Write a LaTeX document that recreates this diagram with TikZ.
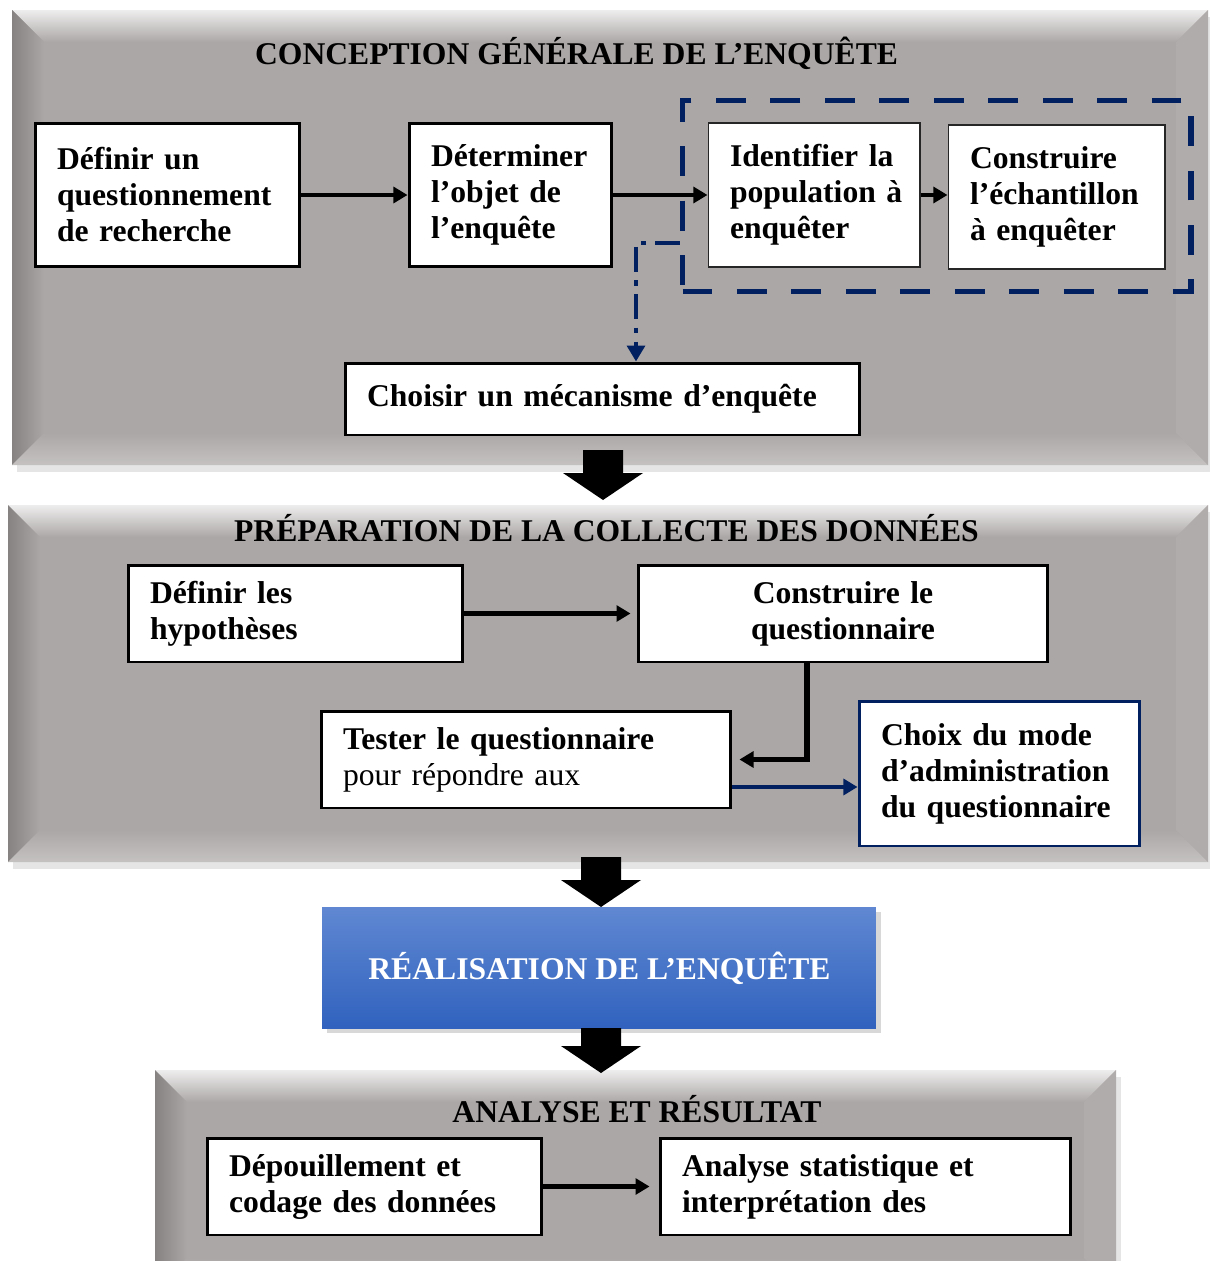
\documentclass[tikz,border=0pt]{standalone}
\usepackage{fontspec}
\setmainfont{Liberation Serif}
\usepackage{xcolor}
\usetikzlibrary{arrows.meta,positioning,calc,fit,shadows}
\definecolor{enqgris}{HTML}{ABA7A6}
\definecolor{enqmarine}{HTML}{002060}
\definecolor{enqbleuhaut}{HTML}{6088D2}
\definecolor{enqbleubas}{HTML}{3062BE}
\newcommand{\taille}{\fontsize{18pt}{20.5pt}\selectfont}
% panneau gris en relief : x1, y1, x2, y2
\newcommand{\panneau}[4]{%
  \fill[black!10] (#1+5,#2+7) rectangle (#3+5,#4+7);
  \fill[enqgris] (#1,#2) rectangle (#3,#4);
  \shade[top color=white!80!enqgris, bottom color=enqgris]
    (#1,#2) -- (#3,#2) -- (#3-32,#2+32) -- (#1+32,#2+32) -- cycle;
  \shade[left color=enqgris!78!black, right color=enqgris]
    (#1,#2) -- (#1+32,#2+32) -- (#1+32,#4-32) -- (#1,#4) -- cycle;
  \shade[top color=enqgris, bottom color=white!30!enqgris]
    (#1,#4) -- (#1+32,#4-32) -- (#3-32,#4-32) -- (#3,#4) -- cycle;
  \fill[enqgris!94!white]
    (#3,#2) -- (#3-32,#2+32) -- (#3-32,#4-32) -- (#3,#4) -- cycle;
}
% grosse flèche noire : x centre, y haut, y pointe
\newcommand{\grossefleche}[3]{%
  \fill[black] (#1-20,#2) -- (#1+20,#2) -- (#1+20,#3-27) -- (#1+40,#3-27)
    -- (#1,#3) -- (#1-40,#3-27) -- (#1-20,#3-27) -- cycle;
}
\hyphenpenalty=10000
\begin{document}
\begin{tikzpicture}[x=0.02cm,y=-0.02cm,
    etape/.style     = {draw=black,line width=1.7pt,fill=white,align=left,
                        inner xsep=0.44cm,inner ysep=0pt,font=\taille\bfseries},
    etapefine/.style = {etape,draw=black!85,line width=0.6pt},
    titre/.style     = {font=\taille\bfseries,inner sep=0pt,anchor=base},
    realisation/.style = {top color=enqbleuhaut,bottom color=enqbleubas,
                        text=white,font=\taille\bfseries,
                        drop shadow={opacity=0.3,shadow xshift=3pt,shadow yshift=-3pt}},
    fleche/.style    = {-{Triangle[length=8pt,width=9pt]},line width=2.6pt},
    groupe/.style    = {draw=enqmarine,line width=3.4pt,
                        dash pattern=on 17pt off 14pt,inner sep=0.5cm},
    renvoi/.style    = {-{Triangle[length=9pt,width=10pt]},draw=enqmarine,
                        line width=2.4pt,dash pattern=on 14pt off 5pt on 3pt off 5pt},
  ]

  \useasboundingbox (0,0) rectangle (1210,1261);
  \fill[white] (0,0) rectangle (1210,1261);

  % ── Panneaux ──────────────────────────────────────────────────────────────
  \panneau{12}{10}{1208}{465}
  \panneau{8}{505}{1208}{862}
  \panneau{155}{1070}{1116}{1290}

  % ── Conception générale ───────────────────────────────────────────────────
  \node[titre] (tconc) at (576.5,64) {CONCEPTION GÉNÉRALE DE L’ENQUÊTE};
  \node[etape,text width=4.42cm,minimum height=2.88cm] (def) at (167.5,195)
       {Définir un\\questionnement\\de recherche};
  \node[etape,text width=3.18cm,minimum height=2.88cm] (obj) at (510.5,195)
       {Déterminer\\l’objet de\\l’enquête};
  \node[etapefine,text width=3.36cm,minimum height=2.88cm] (pop) at (814,195)
       {Identifier la\\population~à\\enquêter};
  \node[etapefine,text width=3.46cm,minimum height=2.88cm] (ech) at (1056.5,197)
       {Construire\\l’échantillon\\à enquêter};
  \node[groupe,fit=(pop)(ech),inner ysep=0.44cm] (grp) {};
  \node[etape,text width=9.42cm,minimum height=1.44cm] (meca) at (602.5,399)
       {Choisir un mécanisme d’enquête};

  \draw[fleche] (def) -- (obj);
  \draw[fleche] (obj) -- (pop);
  \draw[fleche] (pop.east) -- (pop.east -| ech.west);
  \draw[renvoi] ([yshift=-0.94cm]grp.west) -| ([xshift=0.67cm]meca.north);

  % ── Préparation de la collecte ────────────────────────────────────────────
  \node[titre] (tprep) at (606.5,541) {PRÉPARATION DE LA COLLECTE DES DONNÉES};
  \node[etape,text width=5.82cm,minimum height=1.94cm] (hyp) at (295.5,613.5)
       {Définir les\\hypothèses};
  \node[etape,align=center,text width=7.32cm,minimum height=1.94cm] (quest) at (843,613.5)
       {Construire le\\questionnaire};
  \node[etape,text width=7.32cm,minimum height=1.94cm] (test) at (526,759.5)
       {Tester le questionnaire\\\mdseries pour répondre aux};
  \node[etape,draw=enqmarine,text width=4.74cm,minimum height=2.9cm] (mode) at (999.5,773.5)
       {Choix du mode\\d’administration\\du~questionnaire};

  \draw[fleche,shorten >=0.12cm] (hyp) -- (quest);
  \draw[fleche,line width=3pt,shorten >=0.14cm] ([xshift=-0.72cm]quest.south) |- (test.east);
  \draw[fleche,enqmarine,line width=2pt]
    ([yshift=-0.55cm]test.east) -- ([yshift=-0.55cm]test.east -| mode.west);

  % ── Réalisation ───────────────────────────────────────────────────────────
  \node[realisation,minimum width=11.08cm,minimum height=2.42cm] (real) at (599,967.5) {};
  \node[titre,text=white] (treal) at (599.5,979) {RÉALISATION DE L’ENQUÊTE};

  % ── Analyse et résultat ───────────────────────────────────────────────────
  \node[titre] (tana) at (637,1122) {ANALYSE ET RÉSULTAT};
  \node[etape,text width=5.82cm,minimum height=1.94cm] (dep) at (374.5,1186.5)
       {Dépouillement et\\codage des données};
  \node[etape,text width=7.34cm,minimum height=1.94cm] (ana) at (865.5,1186.5)
       {Analyse statistique et\\interprétation des};

  \draw[fleche,shorten >=0.18cm] (dep) -- (ana);

  % ── Grosses flèches entre les étapes ──────────────────────────────────────
  \foreach \cx/\ya/\yb in {603/450/500, 601/857/907, 601/1028/1073}
    {\grossefleche{\cx}{\ya}{\yb}}

\end{tikzpicture}
\end{document}
